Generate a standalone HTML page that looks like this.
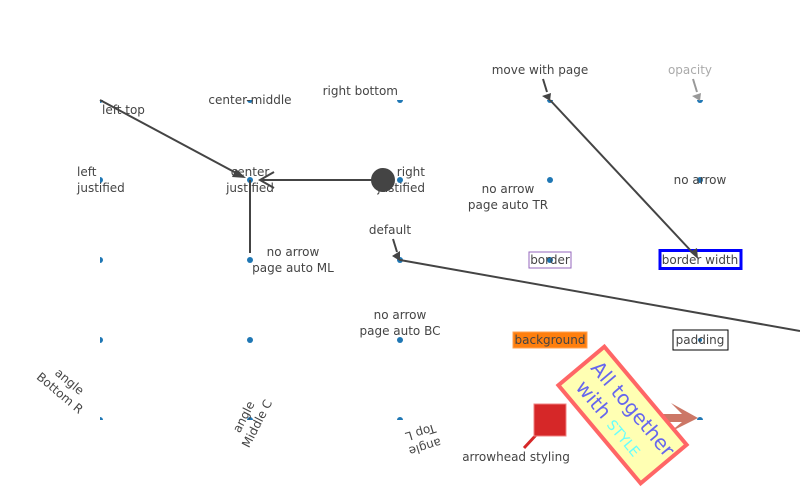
<!DOCTYPE html>
<html><head><meta charset="utf-8"><style>
html,body{margin:0;padding:0;background:#fff}
svg{display:block}
text{font-family:"DejaVu Sans","Liberation Sans",sans-serif;font-size:12px;fill:#444}
</style></head><body>
<svg width="800" height="500" viewBox="0 0 800 500" xmlns="http://www.w3.org/2000/svg">
<defs>
<clipPath id="ax"><rect x="100" y="100" width="610" height="320"/></clipPath>
</defs>
<g fill="#1f77b4" clip-path="url(#ax)">
<circle cx="100" cy="100" r="3"/><circle cx="250" cy="100" r="3"/><circle cx="400" cy="100" r="3"/><circle cx="550" cy="100" r="3"/><circle cx="700" cy="100" r="3"/>
<circle cx="100" cy="180" r="3"/><circle cx="250" cy="180" r="3"/><circle cx="400" cy="180" r="3"/><circle cx="550" cy="180" r="3"/><circle cx="700" cy="180" r="3"/>
<circle cx="100" cy="260" r="3"/><circle cx="250" cy="260" r="3"/><circle cx="400" cy="260" r="3"/><circle cx="550" cy="260" r="3"/><circle cx="700" cy="260" r="3"/>
<circle cx="100" cy="340" r="3"/><circle cx="250" cy="340" r="3"/><circle cx="400" cy="340" r="3"/><circle cx="550" cy="340" r="3"/><circle cx="700" cy="340" r="3"/>
<circle cx="100" cy="420" r="3"/><circle cx="250" cy="420" r="3"/><circle cx="400" cy="420" r="3"/><circle cx="550" cy="420" r="3"/><circle cx="700" cy="420" r="3"/>
</g>

<rect x="529" y="252" width="42" height="16" fill="#fff" stroke="#9467bd" stroke-width="1"/>
<rect x="660" y="250.5" width="81" height="18" fill="#fff" stroke="#0000ff" stroke-width="3"/>
<rect x="513" y="332" width="74" height="16" fill="#ff7f0e" stroke="#ffa050" stroke-width="1"/>
<rect x="673" y="330" width="55" height="20" fill="#fff" stroke="#000" stroke-width="1"/>
<circle cx="550" cy="260" r="3" fill="#1f77b4"/>
<circle cx="700" cy="340" r="2" fill="#1f77b4"/>

<g stroke="#444" stroke-width="2" fill="none">
<line x1="100" y1="100" x2="238" y2="174"/>
<line x1="383" y1="180" x2="262" y2="180"/>
<polyline points="274,172 260,180 274,188"/>
<line x1="250" y1="180" x2="250" y2="253"/>
<line x1="393" y1="239" x2="397" y2="252"/>
<line x1="400" y1="260" x2="800" y2="331"/>
<line x1="543" y1="79" x2="547" y2="92"/>
<line x1="550" y1="100" x2="692" y2="252"/>
</g>
<line x1="693" y1="79" x2="697" y2="92" stroke="#999" stroke-width="2"/>
<g fill="#444">
<polygon points="246,178 232,177 236,169"/>
<polygon points="400,261 392,256 400,251"/>
<polygon points="550,101 542,96 551,93"/>
<polygon points="698,259 690,252 697,248"/>
</g>
<polygon points="700,101 692,96 701,93" fill="#999"/>
<circle cx="383" cy="180" r="12" fill="#444"/>

<line x1="524" y1="448" x2="537" y2="434" stroke="#d62728" stroke-width="3"/>
<rect x="534" y="404" width="32" height="32" fill="#d62728" stroke="#f08080" stroke-width="1"/>

<polygon points="662,414 682,414 671,403 698,418 670,432 682,422 662,422" fill="#cc7766"/>

<g transform="translate(622.5,415) rotate(50)">
<rect x="-64" y="-30" width="128" height="60" fill="#ffffb3" stroke="#ff6666" stroke-width="4"/>
<text x="2" y="-5" text-anchor="middle" style="font-size:20px;fill:#6666ee">All together</text>
<text x="-6" y="19" text-anchor="middle" style="font-size:20px;fill:#6666ee">with <tspan style="font-size:14px;fill:#66ffff">STYLE</tspan></text>
</g>

<text x="102" y="114">left top</text>
<text x="250" y="104" text-anchor="middle">center-middle</text>
<text x="398" y="95" text-anchor="end">right bottom</text>
<text x="77" y="176">left</text><text x="77" y="192">justified</text>
<text x="250" y="176" text-anchor="middle">center</text><text x="250" y="192" text-anchor="middle">justified</text>
<text x="425" y="176" text-anchor="end">right</text><text x="425" y="192" text-anchor="end">justified</text>
<text x="293" y="256" text-anchor="middle">no arrow</text><text x="293" y="272" text-anchor="middle">page auto ML</text>
<text x="390" y="234" text-anchor="middle">default</text>
<text x="508" y="193" text-anchor="middle">no arrow</text><text x="508" y="209" text-anchor="middle">page auto TR</text>
<text x="700" y="184" text-anchor="middle">no arrow</text>
<text x="540" y="74" text-anchor="middle">move with page</text>
<text x="690" y="74" text-anchor="middle" style="fill:#aaa">opacity</text>
<text x="550" y="264" text-anchor="middle">border</text>
<text x="700" y="264" text-anchor="middle">border width</text>
<text x="550" y="344" text-anchor="middle">background</text>
<text x="700" y="344" text-anchor="middle">padding</text>
<text x="400" y="319" text-anchor="middle">no arrow</text><text x="400" y="335" text-anchor="middle">page auto BC</text>
<text x="516" y="461" text-anchor="middle">arrowhead styling</text>

<g transform="translate(65,387) rotate(40)">
<text x="0" y="-3" text-anchor="middle">angle</text>
<text x="0" y="12" text-anchor="middle">Bottom R</text>
</g>
<g transform="translate(250,420) rotate(-63)">
<text x="0" y="-3" text-anchor="middle">angle</text>
<text x="0" y="12" text-anchor="middle">Middle C</text>
</g>
<g transform="translate(423,440) rotate(163)">
<text x="0" y="-3" text-anchor="middle">angle</text>
<text x="0" y="12" text-anchor="middle">Top L</text>
</g>
</svg>
</body></html>
